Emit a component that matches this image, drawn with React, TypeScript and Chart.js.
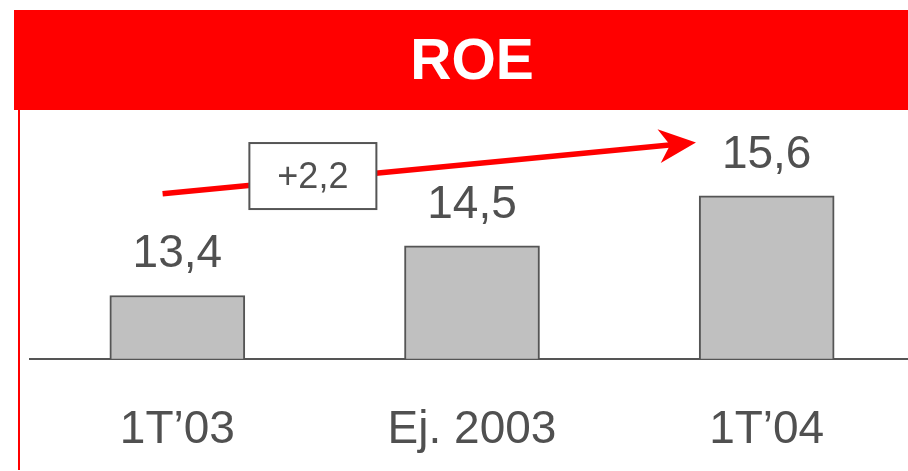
import React, { useEffect, useRef } from "react";
import { Chart, registerables } from "chart.js";

Chart.register(...registerables);

const TITLE = "ROE";
const categories = ["1T\u201903", "Ej. 2003", "1T\u201904"];
const roeValues = [13.4, 14.5, 15.6];
const valueLabels = ["13,4", "14,5", "15,6"];
const deltaLabel = "+2,2";
// arrow endpoints in data units: [category index, value]
const arrowFrom = [-0.05, 15.65];
const arrowTo = [1.76, 16.78];
const deltaBoxAt = [0.46, 16.04];

const Y_MIN = 12;
const Y_MAX = 17.5;

const TEXT = "#505050";
const RED = "#ff0000";
const FONT = "'Liberation Sans', Arial, sans-serif";

const decorPlugin = {
  id: "decor",
  beforeDraw(chart: any) {
    const { ctx, chartArea } = chart;
    ctx.save();
    // banner
    ctx.fillStyle = RED;
    ctx.fillRect(14, 10, chart.width - 14, chartArea.top - 10);
    ctx.fillStyle = "#ffffff";
    ctx.font = `bold 57px ${FONT}`;
    ctx.textAlign = "center";
    ctx.textBaseline = "middle";
    ctx.fillText(TITLE, 472, (10 + chartArea.top) / 2 + 3);
    // left red rule
    ctx.strokeStyle = RED;
    ctx.lineWidth = 2;
    ctx.beginPath();
    ctx.moveTo(19, chartArea.top);
    ctx.lineTo(19, 470);
    ctx.stroke();
    ctx.restore();
  },
  afterDatasetsDraw(chart: any) {
    const { ctx } = chart;
    const xs = chart.scales.x;
    const ys = chart.scales.y;
    const meta = chart.getDatasetMeta(0);
    ctx.save();
    // value labels
    ctx.fillStyle = TEXT;
    ctx.font = `46px ${FONT}`;
    ctx.textAlign = "center";
    ctx.textBaseline = "alphabetic";
    meta.data.forEach((bar: any, i: number) => {
      ctx.fillText(valueLabels[i], bar.x, bar.y - 28);
    });
    // arrow
    const px = (v: number[]) => [
      xs.getPixelForValue(0) + v[0] * (xs.getPixelForValue(1) - xs.getPixelForValue(0)),
      ys.getPixelForValue(v[1]),
    ];
    const [x1, y1] = px(arrowFrom);
    const [x2, y2] = px(arrowTo);
    const ang = Math.atan2(y2 - y1, x2 - x1);
    const headLen = 37;
    const headHalf = 17;
    const notch = 26;
    const cos = Math.cos(ang);
    const sin = Math.sin(ang);
    const pt = (a: number, b: number) => [x2 + a * cos - b * sin, y2 + a * sin + b * cos];
    ctx.strokeStyle = RED;
    ctx.lineWidth = 5.5;
    ctx.beginPath();
    ctx.moveTo(x1, y1);
    const [nx, ny] = pt(-notch + 2, 0);
    ctx.lineTo(nx, ny);
    ctx.stroke();
    ctx.fillStyle = RED;
    ctx.beginPath();
    ctx.moveTo(x2, y2);
    let p = pt(-headLen, -headHalf);
    ctx.lineTo(p[0], p[1]);
    p = pt(-notch, 0);
    ctx.lineTo(p[0], p[1]);
    p = pt(-headLen, headHalf);
    ctx.lineTo(p[0], p[1]);
    ctx.closePath();
    ctx.fill();
    // delta box
    const [bx, by] = px(deltaBoxAt);
    const bw = 127;
    const bh = 66;
    ctx.fillStyle = "#ffffff";
    ctx.fillRect(bx - bw / 2, by - bh / 2, bw, bh);
    ctx.strokeStyle = "#555555";
    ctx.lineWidth = 2;
    ctx.strokeRect(bx - bw / 2, by - bh / 2, bw, bh);
    ctx.fillStyle = TEXT;
    ctx.font = `36px ${FONT}`;
    ctx.textAlign = "center";
    ctx.textBaseline = "middle";
    ctx.fillText(deltaLabel, bx, by + 2);
    ctx.restore();
  },
};

export default function App() {
  const ref = useRef<HTMLCanvasElement | null>(null);
  useEffect(() => {
    document.body.style.margin = "0";
    if (!ref.current) return;
    const chart = new Chart(ref.current, {
      type: "bar",
      data: {
        labels: categories,
        datasets: [
          {
            data: roeValues,
            backgroundColor: "#c0c0c0",
            borderColor: "#555555",
            borderWidth: 2,
            barThickness: 135,
            categoryPercentage: 1,
          },
        ],
      },
      options: {
        responsive: false,
        animation: false,
        devicePixelRatio: 1,
        layout: { padding: { top: 110, left: 30, right: 0, bottom: 0 } },
        plugins: {
          legend: { display: false },
          title: { display: false },
          tooltip: { enabled: false },
        },
        scales: {
          x: {
            grid: { display: false, drawTicks: false },
            border: { display: true, color: "#555555", width: 2 },
            ticks: {
              color: TEXT,
              font: { family: FONT, size: 46 },
              padding: 43.5,
              maxRotation: 0,
              autoSkip: false,
            },
          },
          y: {
            display: false,
            min: Y_MIN,
            max: Y_MAX,
          },
        },
      },
      plugins: [decorPlugin],
    });
    return () => chart.destroy();
  }, []);
  return (
    <div style={{ position: "fixed", left: 0, top: 0, width: 908, height: 471, overflow: "hidden", background: "#fff" }}>
      <canvas ref={ref} width={914} height={501} style={{ display: "block", width: 914, height: 501 }} />
    </div>
  );
}
